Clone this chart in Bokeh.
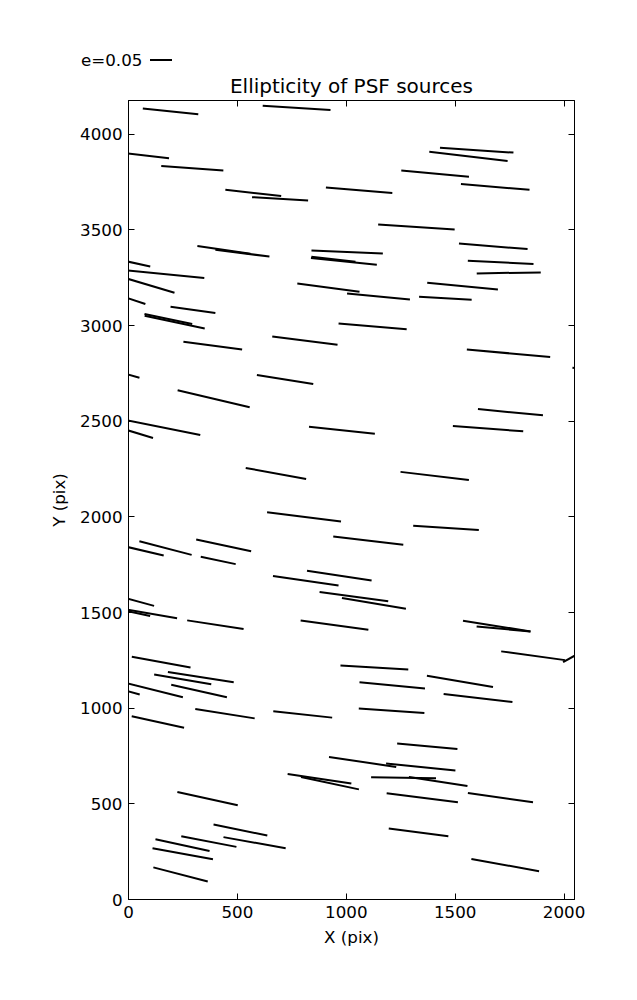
import numpy as np
from bokeh.plotting import figure
from bokeh.layouts import column
from bokeh.models import (Range1d, FixedTicker, LinearAxis, ColumnDataSource, CustomJSTickFormatter, Div)
from bokeh.embed import file_html
from bokeh.resources import INLINE

# PSF source positions (pix), ellipticity and position angle (deg, on screen)
x_pix = [193, 772, 49, 293, 573, 696, 1059, 438, 523, 1004, 989, 941, -35, 165, 79, 918, 1148, -43,
         1599, 1561, 1408, 1684, 1322, 1675, 1709, 1746, 1534, 1455, 296, 183, 212, 1121, 387, 810,
         -72, 719, 391, 158, -9, 980, 677, 1745, 2176, 1754, 1651, 1406, 806, 1101, 38, 170, 437, 412,
         968, 814, 1035, 1127, -5, 87, -13, 399, 946, 150, 1129, 332, 249, 116, 324, -71, 1458, 1691,
         1722, 1858, 2116, 1522, 1211, 1605, 135, 443, 800, 1075, 877, 925, 363, 514, 369, 579, 248,
         249, 239, 1208, 1372, 1342, 1263, 1422, 1349, 1708, 1332, 1730]
y_pix = [4119, 4137, 3892, 3822, 3693, 3662, 3707, 3395, 3378, 3384, 3335, 3346, 3342, 3269, 3216, 3198,
         3152, 3158, 3916, 3884, 3794, 3724, 3515, 3414, 3330, 3275, 3206, 3143, 3082, 3034, 3018, 2995,
         2895, 2921, 2766, 2718, 2617, 2467, 2454, 2453, 2227, 2855, 2765, 2547, 2461, 2214, 2000, 1876,
         1831, 1837, 1851, 1772, 1693, 1666, 1583, 1548, 1573, 1497, 1509, 1436, 1434, 1241, 1212, 1162,
         1151, 1095, 1090, 1110, 1942, 1429, 1414, 1274, 1317, 1140, 1119, 1053, 928, 971, 967, 719,
         631, 608, 527, 363, 303, 297, 284, 239, 131, 986, 801, 692, 636, 617, 532, 532, 351, 180]
ellip = [0.128, 0.156, 0.138, 0.143, 0.129, 0.129, 0.153, 0.123, 0.125, 0.164, 0.152, 0.102, 0.138,
         0.184, 0.138, 0.144, 0.145, 0.127, 0.169, 0.181, 0.156, 0.158, 0.176, 0.158, 0.151, 0.147,
         0.163, 0.121, 0.104, 0.112, 0.141, 0.157, 0.136, 0.151, 0.127, 0.131, 0.170, 0.175, 0.127,
         0.152, 0.141, 0.192, 0.138, 0.150, 0.162, 0.158, 0.171, 0.162, 0.127, 0.124, 0.129, 0.082,
         0.150, 0.152, 0.159, 0.149, 0.127, 0.138, 0.115, 0.131, 0.157, 0.137, 0.156, 0.153, 0.133,
         0.138, 0.131, 0.127, 0.151, 0.157, 0.124, 0.148, 0.138, 0.154, 0.151, 0.159, 0.123, 0.138,
         0.136, 0.156, 0.148, 0.136, 0.142, 0.126, 0.129, 0.145, 0.127, 0.141, 0.129, 0.151, 0.139,
         0.160, 0.149, 0.136, 0.165, 0.151, 0.138, 0.158]
angle_deg = [-5.8, -3.6, -6.5, -4.3, -6.5, -3.5, -4.9, -8.3, -7.1, -2.4, -5.8, -6.5, -12.2, -5.7, -16.6,
             -7.6, -5.5, -18.5, -3.7, -6.6, -5.3, -4.8, -3.8, -4.7, -2.9, 0.9, -5.4, -3.3, -8.0, -11.9,
             -12.0, -4.8, -7.5, -7.3, -15.7, -9.1, -13.3, -11.3, -16.7, -6.1, -10.3, -5.0, -5.0, -5.6,
             -4.4, -6.7, -7.2, -6.8, -13.3, -14.7, -12.1, -11.9, -8.6, -8.1, -7.5, -9.6, -15.4, -9.9,
             -12.2, -8.8, -7.9, -10.4, -3.4, -8.9, -9.7, -14.1, -12.6, -15.3, -3.8, -9.0, -5.3, -7.8,
             29.2, -9.8, -5.3, -6.6, -12.3, -8.9, -6.1, -8.5, -8.6, -12.1, -12.4, -11.6, -11.0, -10.1,
             -12.2, -10.3, -14.5, -3.9, -5.4, -5.8, -0.9, -8.8, -7.2, -8.1, -7.4, -10.3]

X_MAX, Y_MAX = 2048, 4176
KEY_E = 0.05
KEY_LEN = 100.0  # x-units drawn for e = KEY_E
KEY_TEXT = "e=0.05"
x_ticks = [0, 500, 1000, 1500, 2000]
y_ticks = [0, 500, 1000, 1500, 2000, 2500, 3000, 3500, 4000]

W = 629
KH = 68            # height of the key strip above the plot
H = 992 - KH
BL, BR, BT, BB = 128, 55, 100 - KH, 93
fw, fh = W - BL - BR, H - BT - BB
sx, sy = fw / X_MAX, fh / Y_MAX

x = np.array(x_pix, float)
y = np.array(y_pix, float)
e = np.array(ellip, float)
th = np.radians(np.array(angle_deg, float))
half = 0.5 * e / KEY_E * KEY_LEN
dx = half * np.cos(th)
dy = half * np.sin(th) * sx / sy
src = ColumnDataSource(dict(x0=x - dx, y0=y - dy, x1=x + dx, y1=y + dy))

FONT = "DejaVu Sans"
p = figure(width=W, height=H, x_range=Range1d(0, X_MAX), y_range=Range1d(0, Y_MAX),
           output_backend="svg", toolbar_location=None,
           min_border_left=BL, min_border_right=BR, min_border_top=BT, min_border_bottom=BB)
p.grid.visible = False
p.outline_line_color = "black"
p.outline_line_width = 1
p.background_fill_color = "white"
p.border_fill_color = "white"

p.title.text = "Ellipticity of PSF sources"
p.title.align = "center"
p.title.text_font = FONT
p.title.text_font_size = "20px"
p.title.text_font_style = "normal"
p.title.text_color = "black"
p.title.standoff = 6

p.segment(x0="x0", y0="y0", x1="x1", y1="y1", source=src, line_color="black", line_width=2)

def style_axis(ax, labels=True):
    ax.major_tick_in = 6
    ax.major_tick_out = 0
    ax.minor_tick_line_color = None
    ax.axis_line_color = "black"
    ax.major_tick_line_color = "black"
    ax.major_label_text_font = FONT
    ax.major_label_text_color = "black"
    ax.axis_label_text_font = FONT
    ax.axis_label_text_font_style = "normal"
    ax.axis_label_text_font_size = "16.7px"
    ax.axis_label_text_color = "black"
    ax.major_label_text_font_size = "16.7px"
    if labels:
        ax.major_label_standoff = 6
    else:
        ax.formatter = CustomJSTickFormatter(code="return ''")
        ax.major_label_standoff = 0

p.xaxis.ticker = FixedTicker(ticks=x_ticks)
p.yaxis.ticker = FixedTicker(ticks=y_ticks)
p.xaxis.axis_label = "X (pix)"
p.yaxis.axis_label = "Y (pix)"
style_axis(p.xaxis[0])
style_axis(p.yaxis[0])
p.xaxis.axis_label_standoff = 6
p.yaxis.axis_label_standoff = 8

top = LinearAxis(ticker=FixedTicker(ticks=x_ticks))
right = LinearAxis(ticker=FixedTicker(ticks=y_ticks))
style_axis(top, labels=False)
style_axis(right, labels=False)
p.add_layout(top, "above")
p.add_layout(right, "right")

# key strip above the plot: "e=0.05" and a bar whose length is KEY_LEN data units
KEY_PX = KEY_LEN * sx
key_html = (
    f'<div style="position:relative;width:{W}px;height:{KH}px;background:white;">'
    f'<span style="position:absolute;left:81px;top:50px;font-family:\'{FONT}\';'
    f'font-size:16.7px;line-height:normal;color:black;white-space:nowrap;">{KEY_TEXT}</span>'
    f'<span style="position:absolute;left:{BL + KEY_LEN * sx:.1f}px;top:59px;width:{KEY_PX:.1f}px;'
    f'height:2px;background:black;"></span></div>'
)
k = Div(text=key_html, width=W, height=KH, margin=0)

layout = column(k, p, spacing=0)
open("out.html", "w").write(file_html(layout, INLINE))
